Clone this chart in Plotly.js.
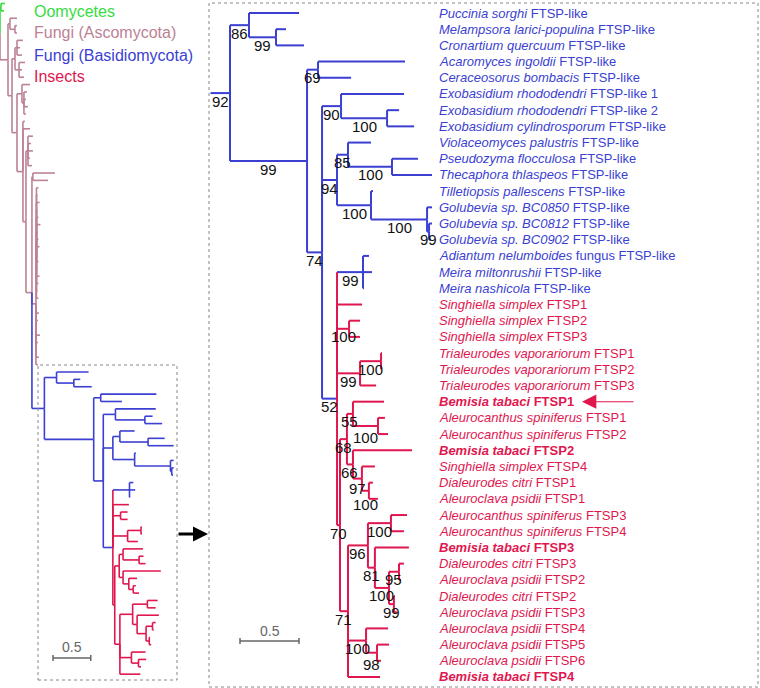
<!DOCTYPE html>
<html><head><meta charset="utf-8">
<script src="https://cdn.plot.ly/plotly-3.0.1.min.js"></script>
<style>html,body{margin:0;padding:0;background:#fff}#chart{width:760px;height:688px}</style>
</head><body><div id="chart"></div>
<script>
// ================= DATA =================
// Basidiomycota + insect FTSP clade (branch lengths, bootstrap supports as node labels)
const cladeRust   = "(t0:0.424,(t1:0.085,t2:0.237)99:0.229)86:0.161";
const cladeExo    = "(t5:0.534,(t6:0.102,t7:0.229)100:0.390)90:0.161";
const cladeUstil  = "((t8:0.195,(t9:0.220,t10:0.339)100:0.373)85:0.093,(t11:0.017,(t12:0.042,(t13:0.025,t14:0.017)99:0.017)100:0.475)100:0.288)94:0.127";
const clade68     = "((t24:0.263,(t25:0.059,t26:0.085)100:0.212)55:0.051,(t27:0.500,(t28:0.110,(t29:0.034,t30:0.076)100:0.059)97:0.076)66:0.051)68:0.059";
const clade71     = "(((t31:0.136,t32:0.110)100:0.195,(t33:0.288,((t34:0.042,t35:0.017)95:0.085,(t36:0.008,t37:0.025)99:0.042)100:0.119)81:0.059)96:0.169,(t38:0.186,(t39:0.102,t40:0.034)98:0.093)100:0.153,t41:0.271)71:0.068";
const clade52     = "((t15:0.051,t16:0.076,t17:0.008)99:0.220,t18:0.212,(t19:0.093,t20:0.093)100:0.102,((t21:0.008,t22:0.008)100:0.178,t23:0.136)99:0.195,(" + clade68 + "," + clade71 + ")70:0.025)52:0.127";
const cladeBasInsect = "(" + cladeRust + ",((t3:0.737,t4:0.280)69:0.093,(" + cladeExo + "," + cladeUstil + "," + clade52 + ")74:0.127)99:0.653)92:0.165";
// Overview: Oomycetes + Ascomycota backbone, Basidiomycota/insect clade attached
const cladeAscoR  = "((A25:0.026,A26:0.013,A27:0.040,A28:0.013,A29:0.026,A30:0.053,A31:0.013,A32:0.026,A33:0.040,A34:0.013,A35:0.026,A36:0.013,A37:0.040,A38:0.026,A39:0.013,A40:0.026):0.007,A41:0.013,A42:0.040,A43:0.026,A44:0.013,A45:0.053,A46:0.026,A47:0.013,A48:0.040,A49:0.026):0.053";
const cladeQ      = "((A23:0.291,A24:0.199):0.013," + cladeAscoR + "," + cladeBasInsect + "):0.079";
const overviewNewick = "((O0:0.053,O1:0.040):0.013,((A2:0.093,(A3:0.026,A4:0.026):0.066):0.026,(((A5:0.079,A6:0.040,A7:0.066):0.026,(A8:0.079,A9:0.040,A10:0.066):0.053):0.040,((A11:0.106,(A12:0.040,A13:0.026,A14:0.053,A15:0.026):0.026):0.066,(A16:0.026,A17:0.093,((A18:0.066,A19:0.040,A20:0.066,A21:0.026,A22:0.053):0.026," + cladeQ + "):0.040):0.079):0.066):0.053):0.106);";

const tipSpecies = ["Puccinia sorghi","Melampsora larici-populina","Cronartium quercuum","Acaromyces ingoldii","Ceraceosorus bombacis","Exobasidium rhododendri","Exobasidium rhododendri","Exobasidium cylindrosporum","Violaceomyces palustris","Pseudozyma flocculosa","Thecaphora thlaspeos","Tilletiopsis pallescens","Golubevia sp. BC0850","Golubevia sp. BC0812","Golubevia sp. BC0902","Adiantum nelumboides","Meira miltonrushii","Meira nashicola","Singhiella simplex","Singhiella simplex","Singhiella simplex","Trialeurodes vaporariorum","Trialeurodes vaporariorum","Trialeurodes vaporariorum","Bemisia tabaci","Aleurocanthus spiniferus","Aleurocanthus spiniferus","Bemisia tabaci","Singhiella simplex","Dialeurodes citri","Aleuroclava psidii","Aleurocanthus spiniferus","Aleurocanthus spiniferus","Bemisia tabaci","Dialeurodes citri","Aleuroclava psidii","Dialeurodes citri","Aleuroclava psidii","Aleuroclava psidii","Aleuroclava psidii","Aleuroclava psidii","Bemisia tabaci"];
const tipGene = ["FTSP-like","FTSP-like","FTSP-like","FTSP-like","FTSP-like","FTSP-like 1","FTSP-like 2","FTSP-like","FTSP-like","FTSP-like","FTSP-like","FTSP-like","FTSP-like","FTSP-like","FTSP-like","fungus FTSP-like","FTSP-like","FTSP-like","FTSP1","FTSP2","FTSP3","FTSP1","FTSP2","FTSP3","FTSP1","FTSP1","FTSP2","FTSP2","FTSP4","FTSP1","FTSP1","FTSP3","FTSP4","FTSP3","FTSP3","FTSP2","FTSP2","FTSP3","FTSP4","FTSP5","FTSP6","FTSP4"];
const tipGroup = ["B","B","B","B","B","B","B","B","B","B","B","B","B","B","B","B","B","B","I","I","I","I","I","I","I","I","I","I","I","I","I","I","I","I","I","I","I","I","I","I","I","I"];
const tipBold = [24, 27, 33, 41];
const legendNames = ["Oomycetes","Fungi (Ascomycota)","Fungi (Basidiomycota)","Insects"];
const legendGroups = ["O","A","B","I"];
const scaleBarLength = 0.5;
const arrowTip = 24;

// ================= STYLE =================
const COLORS = {O:"#35dc40", A:"#bc8294", B:"#3b3fd2", I:"#e0174f"};
const FONT = "Liberation Sans, Arial, Helvetica, sans-serif";
const W = 760, H = 688;
const RIGHT_PX_PER_UNIT = 118, LEFT_PX_PER_UNIT = 75.5;
const RIGHT_ROW = 16.195, LEFT_ROW = 7.37;
const BOOT_SIZE = 15;

// ================= PARSE =================
function parseNewick(s){
  let i = 0;
  function node(){
    const n = {children:[], name:"", len:0, label:""};
    if (s[i] === "("){
      i++; n.children.push(node());
      while (s[i] === ","){ i++; n.children.push(node()); }
      i++;
    }
    let nm = "";
    while (i < s.length && !":,);".includes(s[i])) nm += s[i++];
    if (n.children.length) n.label = nm; else n.name = nm;
    if (s[i] === ":"){ i++; let num = ""; while (i < s.length && !",);".includes(s[i])) num += s[i++]; n.len = parseFloat(num); }
    return n;
  }
  return node();
}
const root = parseNewick(overviewNewick);
const all = []; let leafIdx = 0;
(function walk(n, parent, depth){
  n.parent = parent; n.depth = depth + (parent ? n.len : 0); all.push(n);
  n.children.forEach(c => walk(c, n, n.depth));
  if (!n.children.length){
    n.k = leafIdx++; n.y = n.k;
    if (n.name[0] === "O") n.code = "O";
    else if (n.name[0] === "A") n.code = "A";
    else { n.tip = parseInt(n.name.slice(1)); n.code = tipGroup[n.tip]; }
  } else {
    n.y = (n.children[0].y + n.children[n.children.length-1].y) / 2;
    const cnt = {}; n.children.forEach(c => cnt[c.code] = (cnt[c.code]||0)+1);
    let best = n.children[n.children.length-1].code;
    Object.keys(cnt).forEach(k => { if (cnt[k] > cnt[best]) best = k; });
    n.code = best;
  }
})(root, null, 0);

function stemCode(n){ return (n.code === "B" || (n.parent && n.parent.code === "B")) ? "B" : n.code; }
function vertCode(p, c){ return p.code === "I" ? "I" : stemCode(c); }

// Basidiomycota/insect clade = MRCA of all t-leaves
const tLeaves = all.filter(n => !n.children.length && n.name[0] === "t");
function countT(n){ return n.children.length ? n.children.reduce((a,c)=>a+countT(c),0) : (n.name[0]==="t"?1:0); }
let bas = tLeaves[0]; while (countT(bas) < tLeaves.length) bas = bas.parent;
const basNodes = []; (function w(n){ basNodes.push(n); n.children.forEach(w); })(bas);

function segments(nodes, xa, ya, width){
  const buckets = {};
  const add = (code, x0, y0, x1, y1) => {
    const b = buckets[code] || (buckets[code] = {x:[], y:[]});
    b.x.push(x0, x1, null); b.y.push(y0, y1, null);
  };
  nodes.forEach(n => {
    if (n.parent) add(stemCode(n), n.parent.depth, n.y, n.depth, n.y);
    n.children.forEach(c => add(vertCode(n, c), n.depth, n.y, n.depth, c.y));
  });
  return Object.keys(buckets).map(code => ({
    type:"scatter", mode:"lines", x:buckets[code].x, y:buckets[code].y, xaxis:xa, yaxis:ya,
    line:{color:COLORS[code], width:width, shape:"linear"}, hoverinfo:"skip", showlegend:false, connectgaps:false
  }));
}

const traces = [].concat(segments(all, "x", "y", 1.6), segments(basNodes, "x2", "y2", 2));

// ================= ANNOTATIONS =================
const ann = [];
const basTips = basNodes.filter(n => !n.children.length);
const maxTipDepth = Math.max(...basTips.map(n => n.depth));
const labelX = maxTipDepth + 5 / RIGHT_PX_PER_UNIT;
basTips.forEach(n => {
  let txt = "<i>" + tipSpecies[n.tip] + "</i> " + tipGene[n.tip];
  if (tipBold.includes(n.tip)) txt = "<b>" + txt + "</b>";
  ann.push({xref:"x2", yref:"y2", x:labelX, y:n.y, text:txt, showarrow:false, xanchor:"left", yanchor:"middle",
    font:{family:FONT, size:13, color:COLORS[n.code]}});
});
// bootstrap labels below each node's stem; nudge down slightly where two would collide
const boots = basNodes.filter(n => n.children.length && n.label).map(n => {
  const x = (n.parent.depth + n.depth)/2;
  const px = (x - bas.depth) * RIGHT_PX_PER_UNIT, w = n.label.length * 0.556 * BOOT_SIZE;
  return {n, x, x0:px - w/2, x1:px + w/2, py:(n.y - 50) * RIGHT_ROW + 8, shift:8};
}).sort((a,b) => a.py - b.py);
boots.forEach((b, i) => {
  for (let j = 0; j < i; j++){
    const o = boots[j];
    if (b.x0 < o.x1 && o.x0 < b.x1){
      const gap = (b.py) - (o.py);
      const need = BOOT_SIZE + 1;
      if (gap >= 0 && gap < need){ const d = need - gap; b.py += d; b.shift += d; }
    }
  }
  ann.push({xref:"x2", yref:"y2", x:b.x, y:b.n.y, yshift:-b.shift, text:b.n.label, showarrow:false,
    xanchor:"center", yanchor:"middle", font:{family:FONT, size:BOOT_SIZE, color:"#111"}});
});
legendNames.forEach((t, i) => {
  ann.push({xref:"paper", yref:"paper", x:32/W, y:1 - (11 + 22*i)/H, text:t, showarrow:false, xanchor:"left", yanchor:"middle",
    font:{family:FONT, size:16, color:COLORS[legendGroups[i]]}});
});
// scale bars
const rsx = bas.depth + 10 / RIGHT_PX_PER_UNIT, lsx = 53 / LEFT_PX_PER_UNIT;
ann.push({xref:"x2", yref:"paper", x:rsx + scaleBarLength/2, y:1 - 631/H, text:String(scaleBarLength), showarrow:false, xanchor:"center", yanchor:"middle", font:{family:FONT, size:14, color:"#666"}});
ann.push({xref:"x", yref:"paper", x:lsx + scaleBarLength/2, y:1 - 647/H, text:String(scaleBarLength), showarrow:false, xanchor:"center", yanchor:"middle", font:{family:FONT, size:14, color:"#666"}});
// arrows
ann.push({xref:"paper", yref:"paper", x:208/W, y:1 - 534/H, ax:-31, ay:0, text:"", showarrow:true, arrowhead:2, arrowsize:1, arrowwidth:3, arrowcolor:"#000", standoff:0});
const arrowLeaf = basTips.find(n => n.tip === arrowTip);
ann.push({xref:"paper", yref:"y2", x:582/W, y:arrowLeaf.y, ax:53, ay:0, text:"", showarrow:true, arrowhead:2, arrowsize:2.6, arrowwidth:1.1, arrowcolor:COLORS.I, standoff:0});

const shapes = [];
const dashBox = (x0,y0,x1,y1) => ({type:"rect", xref:"paper", yref:"paper", x0:x0/W, x1:x1/W, y0:1-y1/H, y1:1-y0/H, line:{color:"#888", width:1, dash:"dot"}});
shapes.push(dashBox(209,3,758,687), dashBox(38,365,177,680));
function scaleBar(xref, x0, ypx){
  const y = 1 - ypx/H, t = 3/H;
  return [
    {type:"line", xref:xref, yref:"paper", x0:x0, x1:x0+scaleBarLength, y0:y, y1:y, line:{color:"#666", width:1.5}},
    {type:"line", xref:xref, yref:"paper", x0:x0, x1:x0, y0:y-t, y1:y+t, line:{color:"#666", width:1.5}},
    {type:"line", xref:xref, yref:"paper", x0:x0+scaleBarLength, x1:x0+scaleBarLength, y0:y-t, y1:y+t, line:{color:"#666", width:1.5}}
  ];
}
shapes.push(...scaleBar("x2", rsx, 641), ...scaleBar("x", lsx, 658));

const hidden = {visible:false, showgrid:false, zeroline:false, fixedrange:true};
const layout = {
  width:W, height:H, margin:{l:0, r:0, t:0, b:0}, paper_bgcolor:"#fff", plot_bgcolor:"rgba(0,0,0,0)",
  showlegend:false, font:{family:FONT},
  xaxis:Object.assign({}, hidden, {domain:[0,1], range:[0, W/LEFT_PX_PER_UNIT]}),
  yaxis:Object.assign({}, hidden, {domain:[0,1], range:[(H-3.5)/LEFT_ROW, -3.5/LEFT_ROW]}),
  xaxis2:Object.assign({}, hidden, {overlaying:"x", range:[bas.depth - 230/RIGHT_PX_PER_UNIT, bas.depth + (W-230)/RIGHT_PX_PER_UNIT]}),
  yaxis2:Object.assign({}, hidden, {overlaying:"y", range:[50 + (H-13)/RIGHT_ROW, 50 - 13/RIGHT_ROW]}),
  annotations:ann, shapes:shapes
};
Plotly.newPlot("chart", traces, layout, {staticPlot:true, displayModeBar:false});
</script></body></html>
